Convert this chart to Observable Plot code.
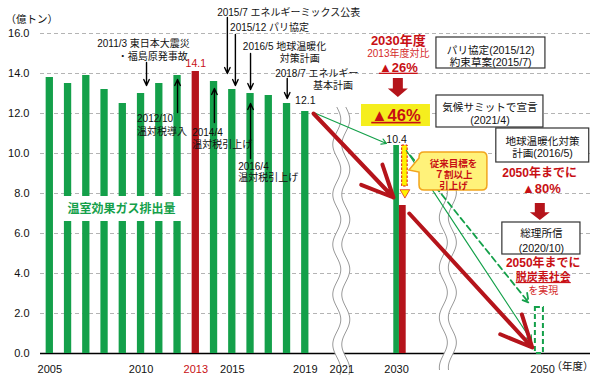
<!DOCTYPE html>
<html><head><meta charset="utf-8">
<script src="https://cdn.jsdelivr.net/npm/d3@7"></script>
<script src="https://cdn.jsdelivr.net/npm/@observablehq/plot@0.6"></script>
<style>
body{margin:0;background:#fff;}
svg text{font-family:"Liberation Sans","Noto Sans CJK JP",sans-serif;}
</style></head><body><div id="chart"></div>
<script>
// ---- data ----
const years = [2005,2006,2007,2008,2009,2010,2011,2012,2013,2014,2015,2016,2017,2018,2019];
const emissions = [13.8,13.5,13.9,13.2,12.5,13.0,13.5,13.9,14.1,13.6,13.2,13.0,12.9,12.5,12.1];
const targetYear = 2030;
const target26 = 10.4;   // 2030 target (old, -26%)
const target46 = 7.4;    // 2030 target (new, -46%)
const target2050 = 2.3;  // 2050 (-80%, old plan)
const xTickYears = [2005,2010,2013,2015,2019,2021,2030,2050];
const yTicks = [0,2,4,6,8,10,12,14,16];
const breaks = [{year:2021, top:12.3, bottom:-1.1},{year:2037.1, top:8.65, bottom:-0.85}];

const eventNotes = [
  {t:"2011/3 東日本大震災", x:2007.6, v:15.5},
  {t:"・福島原発事故", x:2008.72, v:14.85},
  {t:"2012/10", x:2009.78, v:11.72},
  {t:"温対税導入", x:2009.78, v:11.1},
  {t:"2014/4", x:2012.8, v:11.025},
  {t:"温対税引上げ", x:2012.8, v:10.45},
  {t:"2015/7 エネルギーミックス公表", x:2014.17, v:17.05},
  {t:"2015/12 パリ協定", x:2014.88, v:16.3},
  {t:"2016/5 地球温暖化", x:2015.58, v:15.325},
  {t:"対策計画", x:2017.6, v:14.75},
  {t:"2018/7 エネルギー", x:2017.35, v:14.0},
  {t:"基本計画", x:2019.42, v:13.38},
  {t:"2016/4", x:2015.32, v:9.35},
  {t:"温対税引上げ", x:2015.32, v:8.775}
];
const eventArrows = [
  {x:2010.3, from:14.55, to:13.4},
  {x:2012.0, from:12.05, to:13.7},
  {x:2014.02, from:11.55, to:13.25},
  {x:2014.73, from:16.8, to:14.0},
  {x:2015.17, from:15.95, to:13.4},
  {x:2016.0, from:15.0, to:13.2},
  {x:2018.01, from:13.75, to:12.75},
  {x:2016.0, from:9.75, to:12.5}
];
const redPaths = [
  {x1:2019.45, v1:12.0, x2:2029.5, v2:7.8},
  {x1:2031.75, v1:7.0, x2:2048.6, v2:0.3}
];
const greenPaths = [
  {x1:2019.45, v1:12.05, x2:2028.35, v2:10.5},
  {x1:2031.35, v1:10.15, x2:2048.5, v2:0.65}
];
const greenDashed = [{x1:2031.9, v1:9.9, x2:2048.1, v2:2.55}];

const boxes = [
  {x1:2035.47, x2:2050.4, y1:15.8, y2:14.25},
  {x1:2035.47, x2:2050.13, y1:12.9, y2:11.3},
  {x1:2043.67, x2:2056.4, y1:11.25, y2:9.55},
  {x1:2044.5, x2:2055.2, y1:6.55, y2:4.95}
];
const boxTexts = [
  {t:"パリ協定(2015/12)", x:2042.9, v:15.15},
  {t:"約束草案(2015/7)", x:2042.9, v:14.55},
  {t:"気候サミットで宣言", x:2042.8, v:12.3},
  {t:"(2021/4)", x:2042.8, v:11.65},
  {t:"地球温暖化対策", x:2050.0, v:10.6},
  {t:"計画(2016/5)", x:2050.0, v:10.0},
  {t:"総理所信", x:2049.85, v:6.0},
  {t:"(2020/10)", x:2049.85, v:5.25}
];
const redBold = [
  {t:"2030年度", x:2030.25, v:15.65, s:13},
  {t:"▲26%", x:2030.25, v:14.3, s:13},
  {t:"▲46%", x:2029.9, v:11.9, s:16.5},
  {t:"2050年までに", x:2049.6, v:9.0, s:12},
  {t:"▲80%", x:2049.85, v:8.25, s:13},
  {t:"2050年までに", x:2050.1, v:4.5, s:12},
  {t:"脱炭素社会", x:2050.1, v:3.8, s:11}
];
const redPlain = [
  {t:"2013年度対比", x:2030.25, v:15.0, s:10},
  {t:"を実現", x:2050.1, v:3.15, s:10}
];
const blockArrows = [{x:2030.25, top:13.75, bottom:12.8},{x:2049.7, top:7.5, bottom:6.65}];
const yellowBox = [{x1:2024.24, x2:2034.65, y1:12.45, y2:11.35}];
const callout = {x1:2033.15, x2:2042.45, y1:10.05, y2:8.15, tipX:2031.77, tipV:9.15, b1:9.75, b2:9.05};
const calloutText = [
  {t:"従来目標を", x:2037.8, v:9.5},
  {t:"７割以上", x:2037.8, v:8.95},
  {t:"引上げ", x:2037.8, v:8.4}
];
const seriesLabel = {t:"温室効果ガス排出量", x1:2005.59, x2:2012.27, y1:7.85, y2:6.6};

// ---- broken axis mapping ----
const xpos = y => y <= 2021 ? y - 2005 : y <= 2030 ? 16 + (y - 2021) / 3 : 19 + (y - 2030) * 0.4;

const GREEN = "#14a04a", RED = "#b5141b", TRED = "#c80f14";
const bars = years.map((y, i) => ({year: y, value: emissions[i]}));
const FONT = '"Liberation Sans","Noto Sans CJK JP",sans-serif';

function breakMark(index, {x, y}) {
  const g = d3.create("svg:g");
  for (const b of breaks) {
    const cx = x(xpos(b.year)), y0 = y(b.top), y1 = y(b.bottom);
    const ys = d3.range(y0, y1 + 0.5, 1);
    const wave = off => ys.map(py => [cx + off + 4 * Math.sin((py - y0) / 50 * 2 * Math.PI), py]);
    const L = wave(-4.5), R = wave(4.5);
    g.append("path").attr("d", d3.line()(L.concat(R.slice().reverse())) + "Z").attr("fill", "#fff");
    g.append("path").attr("d", d3.line()(L)).attr("fill", "none").attr("stroke", "#9a9a9a").attr("stroke-width", 1);
    g.append("path").attr("d", d3.line()(R)).attr("fill", "none").attr("stroke", "#9a9a9a").attr("stroke-width", 1);
  }
  return g.node();
}

function decoMark(index, {x, y}) {
  const g = d3.create("svg:g");
  const X = v => x(xpos(v));
  for (const a of blockArrows) {
    const cx = X(a.x), t = y(a.top), b = y(a.bottom), hh = (b - t) * 0.45;
    g.append("path")
      .attr("d", `M${cx-5},${t}H${cx+5}V${b-hh}H${cx+10}L${cx},${b}L${cx-10},${b-hh}H${cx-5}Z`)
      .attr("fill", RED);
  }
  const c = callout, x0 = X(c.x1), x1 = X(c.x2), y0 = y(c.y1), y1 = y(c.y2), r = 5;
  g.append("path")
    .attr("d", `M${x0+r},${y0}H${x1-r}Q${x1},${y0} ${x1},${y0+r}V${y1-r}Q${x1},${y1} ${x1-r},${y1}H${x0+r}Q${x0},${y1} ${x0},${y1-r}V${y(c.b2)}L${X(c.tipX)},${y(c.tipV)}L${x0},${y(c.b1)}V${y0+r}Q${x0},${y0} ${x0+r},${y0}Z`)
    .attr("fill", "#fff27a").attr("stroke", "#f2a51c").attr("stroke-width", 1.5);
  return g.node();
}

const plot = Plot.plot({
  width: 600, height: 381,
  marginLeft: 40, marginRight: 10, marginTop: 33, marginBottom: 28,
  x: {type: "linear", domain: [-0.51, 29.63], axis: null},
  y: {domain: [0, 16], axis: null},
  style: {fontFamily: FONT, background: "#fff", overflow: "visible"},
  marks: [
    Plot.ruleY(yTicks.filter(d => d > 0), {stroke: "#b4b4b4", strokeDasharray: "4,3", strokeWidth: 1}),
    Plot.ruleY([0], {stroke: "#000", strokeWidth: 1.5}),
    breakMark,
    Plot.rect(bars, {filter: d => d.year !== 2013, x1: d => xpos(d.year) - 0.2, x2: d => xpos(d.year) + 0.2, y1: 0, y2: "value", fill: GREEN}),
    Plot.rect(bars, {filter: d => d.year === 2013, x1: d => xpos(d.year) - 0.2, x2: d => xpos(d.year) + 0.2, y1: 0, y2: "value", fill: RED}),
    Plot.rect([target26], {x1: xpos(targetYear) - 0.15, x2: xpos(targetYear) + 0.16, y1: 0, y2: d => d, fill: GREEN}),
    Plot.rect([target46], {x1: xpos(targetYear) + 0.16, x2: xpos(targetYear) + 0.53, y1: 0, y2: d => d, fill: RED}),
    Plot.rect([target26], {x1: xpos(targetYear) + 0.31, x2: xpos(targetYear) + 0.61, y1: d => d, y2: 8.35, fill: "#fff200", stroke: "#d11", strokeDasharray: "2.5,1.5", strokeWidth: 1}),
    Plot.dot([8.05], {x: xpos(targetYear) + 0.46, y: d => d, symbol: "triangle", rotate: 180, r: 3.6, fill: "#fff200", stroke: "#d11", strokeWidth: 0.7}),
    Plot.rect([target2050], {x1: xpos(2050) - 0.39, x2: xpos(2050) + 0.05, y1: 0, y2: d => d, fill: "none", stroke: GREEN, strokeDasharray: "5,3", strokeWidth: 2}),
    Plot.rect([seriesLabel], {x1: d => xpos(d.x1), x2: d => xpos(d.x2), y1: "y1", y2: "y2", fill: "#fff"}),
    Plot.text([seriesLabel], {x: d => (xpos(d.x1) + xpos(d.x2)) / 2, y: d => (d.y1 + d.y2) / 2, text: "t", fill: GREEN, fontWeight: "bold", fontSize: 12}),
    Plot.arrow(greenPaths, {x1: d => xpos(d.x1), y1: "v1", x2: d => xpos(d.x2), y2: "v2", stroke: GREEN, strokeWidth: 1.2, headLength: 7}),
    Plot.arrow(greenDashed, {x1: d => xpos(d.x1), y1: "v1", x2: d => xpos(d.x2), y2: "v2", stroke: GREEN, strokeWidth: 1.8, strokeDasharray: "6,4", headLength: 8}),
    Plot.arrow(redPaths, {x1: d => xpos(d.x1), y1: "v1", x2: d => xpos(d.x2), y2: "v2", stroke: RED, strokeWidth: 4, headLength: 13, headAngle: 50}),
    Plot.arrow(eventArrows, {x1: d => xpos(d.x), x2: d => xpos(d.x), y1: "from", y2: "to", stroke: "#000", strokeWidth: 1.4, headLength: 7, headAngle: 50}),
    Plot.text(eventNotes, {x: d => xpos(d.x), y: "v", text: "t", textAnchor: "start", fill: "#111", fontSize: 10}),
    Plot.text([14.1], {x: xpos(2013), y: d => d, text: d => d.toFixed(1), dy: -8, fill: TRED, fontSize: 10.5}),
    Plot.text([12.1], {x: xpos(2019), y: d => d, text: d => d.toFixed(1), dy: -11, fill: "#111", fontSize: 10.5}),
    Plot.text([target26], {x: xpos(targetYear), y: d => d, text: d => d.toFixed(1), dy: -6, fill: "#111", fontSize: 10.5}),
    Plot.rect(yellowBox, {x1: d => xpos(d.x1), x2: d => xpos(d.x2), y1: "y1", y2: "y2", fill: "#f5ee1e"}),
    Plot.rect(boxes, {x1: d => xpos(d.x1), x2: d => xpos(d.x2), y1: "y1", y2: "y2", fill: "#fff", stroke: "#333", strokeWidth: 1.2}),
    decoMark,
    Plot.text(boxTexts, {x: d => xpos(d.x), y: "v", text: "t", fill: "#111", fontSize: 10.6}),
    Plot.text(redBold, {x: d => xpos(d.x), y: "v", text: "t", fill: TRED, fontWeight: "bold", fontSize: d => d.s}),
    Plot.text(redPlain, {x: d => xpos(d.x), y: "v", text: "t", fill: "#d42a2a", fontSize: d => d.s}),
    Plot.text(calloutText, {x: d => xpos(d.x), y: "v", text: "t", fill: TRED, fontWeight: "bold", fontSize: 9.5}),
    Plot.text(yTicks, {frameAnchor: "left", y: d => d, text: d => d.toFixed(1), textAnchor: "end", dx: -11, fill: "#111", fontSize: 11}),
    Plot.text(xTickYears.filter(d => d !== 2013), {x: d => xpos(d), y: 0, dy: 16, text: d => String(d), fill: "#111", fontSize: 11}),
    Plot.text([2013], {x: d => xpos(d), y: 0, dy: 16, text: d => String(d), fill: TRED, fontSize: 11}),
    Plot.text(["（年度）"], {frameAnchor: "bottom-right", textAnchor: "end", dx: 3, dy: 16, fill: "#111", fontSize: 10.5}),
    Plot.text(["（億トン）"], {frameAnchor: "top-left", textAnchor: "start", dx: -35, dy: -18, fill: "#111", fontSize: 10.5})
  ]
});

d3.select(plot).selectAll("text").filter(function() {
  return ["▲26%", "▲46%", "脱炭素社会"].includes(this.textContent);
}).attr("text-decoration", "underline");

document.getElementById("chart").appendChild(plot);
</script>
</body></html>
